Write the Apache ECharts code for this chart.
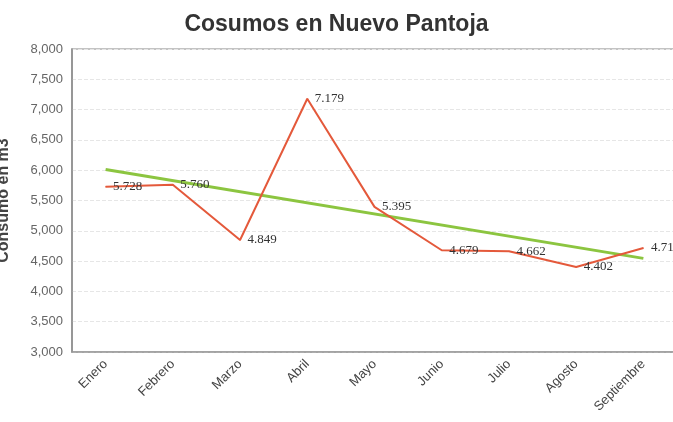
<!DOCTYPE html>
<html>
<head>
<meta charset="utf-8">
<script src="https://cdn.jsdelivr.net/npm/echarts@6/dist/echarts.min.js"></script>
<style>html,body{margin:0;padding:0;background:#fff}#c{width:673px;height:422px}</style>
</head>
<body>
<div id="c"></div>
<script>
var meses = ['Enero','Febrero','Marzo','Abril','Mayo','Junio','Julio','Agosto','Septiembre'];
var consumo = [5728, 5760, 4849, 7179, 5395, 4679, 4662, 4402, 4715];
var tendencia = [6010, null, null, null, null, null, null, null, 4545];
var yTicks = [3000, 3500, 4000, 4500, 5000, 5500, 6000, 6500, 7000, 7500, 8000];

var chart = echarts.init(document.getElementById('c'));
chart.setOption({
  animation: false,
  backgroundColor: '#ffffff',
  title: {
    text: 'Cosumos en Nuevo Pantoja',
    left: 'center',
    top: 8,
    textStyle: { fontFamily: 'Liberation Sans, Arial, sans-serif', fontSize: 23, fontWeight: 'bold', color: '#333' }
  },
  grid: { left: 72, right: -4, top: 49, bottom: 70, containLabel: false, outerBoundsMode: 'none', show: true, borderColor: '#b0b0b0', borderWidth: 1.5 },
  xAxis: {
    type: 'category',
    data: meses,
    boundaryGap: true,
    axisLine: { lineStyle: { color: '#999', width: 1.5 } },
    axisTick: { show: false },
    axisLabel: { rotate: 45, margin: 10, color: '#444', fontSize: 13, fontFamily: 'Liberation Sans, Arial, sans-serif' }
  },
  yAxis: {
    type: 'value',
    min: yTicks[0],
    max: yTicks[yTicks.length - 1],
    interval: 500,
    name: 'Consumo en m3',
    nameLocation: 'middle',
    nameGap: 60,
    nameTextStyle: { fontFamily: 'Liberation Sans, Arial, sans-serif', fontSize: 16, fontWeight: 'bold', color: '#444' },
    axisLine: { show: true, lineStyle: { color: '#888', width: 1.5 } },
    axisTick: { show: false },
    axisLabel: {
      margin: 9, color: '#666', fontSize: 13, fontFamily: 'Liberation Sans, Arial, sans-serif',
      formatter: function (v) { return v.toLocaleString('en-US'); }
    },
    splitLine: { lineStyle: { color: '#e6e6e6', type: 'dashed' } }
  },
  series: [
    {
      name: 'Tendencia',
      type: 'line',
      data: tendencia,
      connectNulls: true,
      symbol: 'none',
      lineStyle: { color: '#8cc540', width: 3 },
      z: 2
    },
    {
      name: 'Consumo',
      type: 'line',
      data: consumo,
      symbol: 'circle',
      symbolSize: 1,
      itemStyle: { color: '#e4593b' },
      lineStyle: { color: '#e4593b', width: 2 },
      label: {
        show: true,
        position: 'right',
        distance: 7,
        color: '#333',
        fontSize: 13,
        fontFamily: 'Liberation Serif, Times New Roman, serif',
        formatter: function (p) { return String(p.value).replace(/(\d)(\d{3})$/, '$1.$2'); }
      },
      z: 3
    }
  ]
});
</script>
</body>
</html>
